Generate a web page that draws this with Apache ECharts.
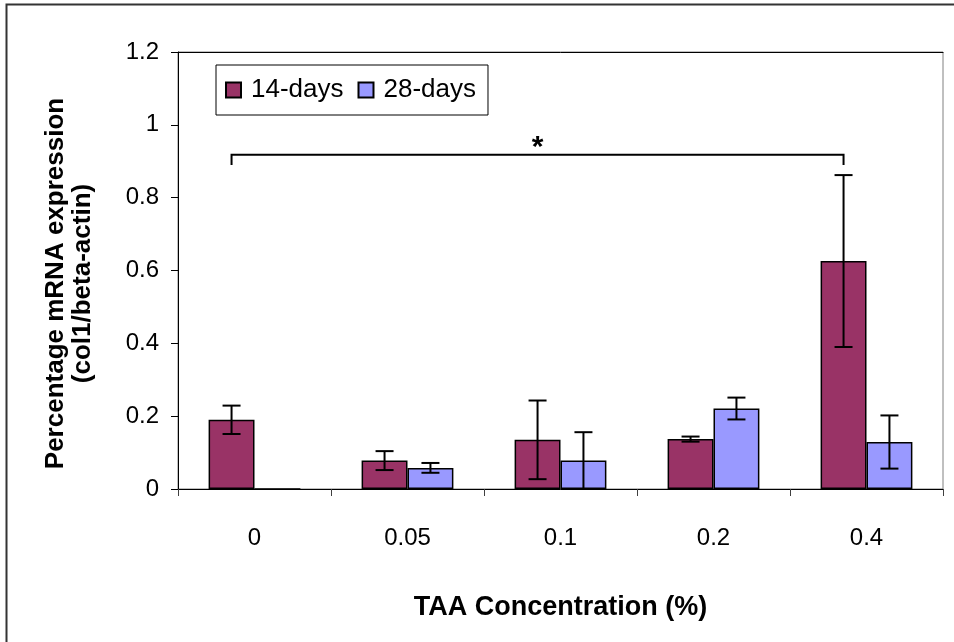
<!DOCTYPE html>
<html>
<head>
<meta charset="utf-8">
<script src="https://cdn.jsdelivr.net/npm/echarts@6/dist/echarts.min.js"></script>
<style>html,body{margin:0;padding:0;background:#fff}#c{width:954px;height:642px}</style>
</head>
<body>
<div id="c"></div>
<script>
const categories = ['0', '0.05', '0.1', '0.2', '0.4'];
const seriesNames = ['14-days', '28-days'];
const days14 = [0.19, 0.078, 0.135, 0.137, 0.626];
const days14Err = [0.039, 0.026, 0.108, 0.007, 0.236];
const days28 = [0, 0.058, 0.078, 0.221, 0.129];
const days28Err = [0, 0.0135, 0.078, 0.03, 0.073];
const yTicks = [0, 0.2, 0.4, 0.6, 0.8, 1, 1.2];
// significance bracket: from category index, to category index, bracket level, tick end level
const bracket = [[0, 4, 0.918, 0.89]];
const bracketLabel = '*';

const FONT = 'Liberation Sans, Arial, sans-serif';
const GAP = 0.4;

function errRender(sign, vals, errs) {
  return function (params, api) {
    const i = api.value(0);
    const v = vals[i], e = errs[i];
    const band = api.size([1, 0])[0];
    const off = sign * band * (1 - GAP) / 4;
    const top = api.coord([i, v + e]);
    const bot = api.coord([i, v - e]);
    const x = top[0] + off;
    const cap = 9;
    const st = { stroke: '#000', lineWidth: 2 };
    return {
      type: 'group',
      children: [
        { type: 'line', shape: { x1: x, y1: top[1], x2: x, y2: bot[1] }, style: st },
        { type: 'line', shape: { x1: x - cap, y1: top[1], x2: x + cap, y2: top[1] }, style: st },
        { type: 'line', shape: { x1: x - cap, y1: bot[1], x2: x + cap, y2: bot[1] }, style: st }
      ]
    };
  };
}

const chart = echarts.init(document.getElementById('c'), null, { renderer: 'canvas' });
chart.setOption({
  animation: false,
  backgroundColor: '#fff',
  textStyle: { fontFamily: FONT },
  graphic: [{
    type: 'rect', silent: true, z: -10,
    shape: { x: 6.5, y: 4.5, width: 1000, height: 1000 },
    style: { fill: 'none', stroke: '#333', lineWidth: 2 }
  }],
  grid: { left: 178, right: 11, top: 52, bottom: 153, show: true, borderColor: '#808080', borderWidth: 1, backgroundColor: 'transparent' },
  legend: {
    left: 216, top: 65,
    data: seriesNames,
    orient: 'horizontal',
    backgroundColor: '#fff',
    borderColor: '#000', borderWidth: 1,
    padding: [12, 12, 12, 9],
    itemWidth: 15, itemHeight: 15, itemGap: 14,
    icon: 'rect',
    textStyle: { fontSize: 26, color: '#000', fontFamily: FONT, padding: [0, 0, 0, 5] }
  },
  xAxis: [{
    type: 'category',
    data: categories,
    axisLine: { lineStyle: { color: '#000', width: 1 } },
    axisTick: { show: true, length: 7, lineStyle: { color: '#404040' } },
    axisLabel: { fontSize: 24, color: '#000', margin: 37, fontFamily: FONT },
    name: 'TAA Concentration (%)',
    nameLocation: 'middle',
    nameGap: 105,
    nameTextStyle: { fontSize: 27, fontWeight: 'bold', color: '#000', fontFamily: FONT, verticalAlign: 'top' }
  }, {
    type: 'category',
    data: categories,
    position: 'top',
    axisLine: { show: true, lineStyle: { color: '#000', width: 1 } },
    axisTick: { show: false },
    axisLabel: { show: false }
  }],
  yAxis: {
    type: 'value',
    min: 0, max: 1.2, interval: 0.2,
    axisLine: { show: true, lineStyle: { color: '#000', width: 1 } },
    axisTick: { show: true, length: 7, lineStyle: { color: '#000' } },
    splitLine: { show: false },
    axisLabel: {
      fontSize: 24, color: '#000', margin: 19, fontFamily: FONT,
      formatter: function (v) { return yTicks.indexOf(Math.round(v * 10) / 10) >= 0 ? String(Math.round(v * 10) / 10) : ''; }
    },
    name: 'Percentage mRNA expression\n(col1/beta-actin)',
    nameLocation: 'middle',
    nameGap: 82,
    nameRotate: 90,
    nameTextStyle: { fontSize: 26, fontWeight: 'bold', color: '#000', fontFamily: FONT, lineHeight: 27, padding: [0, 26, 0, 0], align: 'center' }
  },
  series: [{
    name: seriesNames[0], type: 'bar', data: days14,
    barGap: '0%', barCategoryGap: '40%',
    itemStyle: { color: '#993366', borderColor: '#000', borderWidth: 1.5 }
  }, {
    name: seriesNames[1], type: 'bar', data: days28,
    barGap: '0%', barCategoryGap: '40%',
    itemStyle: { color: '#9999FF', borderColor: '#000', borderWidth: 1.5 }
  }, {
    type: 'custom', z: 5, silent: true,
    renderItem: errRender(-1, days14, days14Err),
    data: categories.map((c, i) => [i, days14[i]])
  }, {
    type: 'custom', z: 5, silent: true,
    renderItem: errRender(1, days28, days28Err),
    data: categories.map((c, i) => [i, days28[i]]).filter((d, i) => days28Err[i] > 0)
  }, {
    type: 'custom', z: 6, silent: true,
    encode: { x: [0, 1], y: [2, 3] },
    renderItem: function (params, api) {
      const band = api.size([1, 0])[0];
      const off = -band * (1 - GAP) / 4;
      const a = api.coord([api.value(0), api.value(2)]);
      const b = api.coord([api.value(1), api.value(2)]);
      const t = api.coord([api.value(0), api.value(3)]);
      const x1 = a[0] + off, x2 = b[0] + off, y = a[1], yt = t[1];
      return {
        type: 'group',
        children: [
          { type: 'polyline', shape: { points: [[x1, yt], [x1, y], [x2, y], [x2, yt]] }, style: { stroke: '#000', lineWidth: 2, fill: 'none' } },
          { type: 'text', style: { text: bracketLabel, x: (x1 + x2) / 2, y: y + 8, align: 'center', verticalAlign: 'bottom', fontSize: 30, fontWeight: 'bold', fontFamily: FONT, fill: '#000' } }
        ]
      };
    },
    data: bracket
  }]
});
</script>
</body>
</html>
